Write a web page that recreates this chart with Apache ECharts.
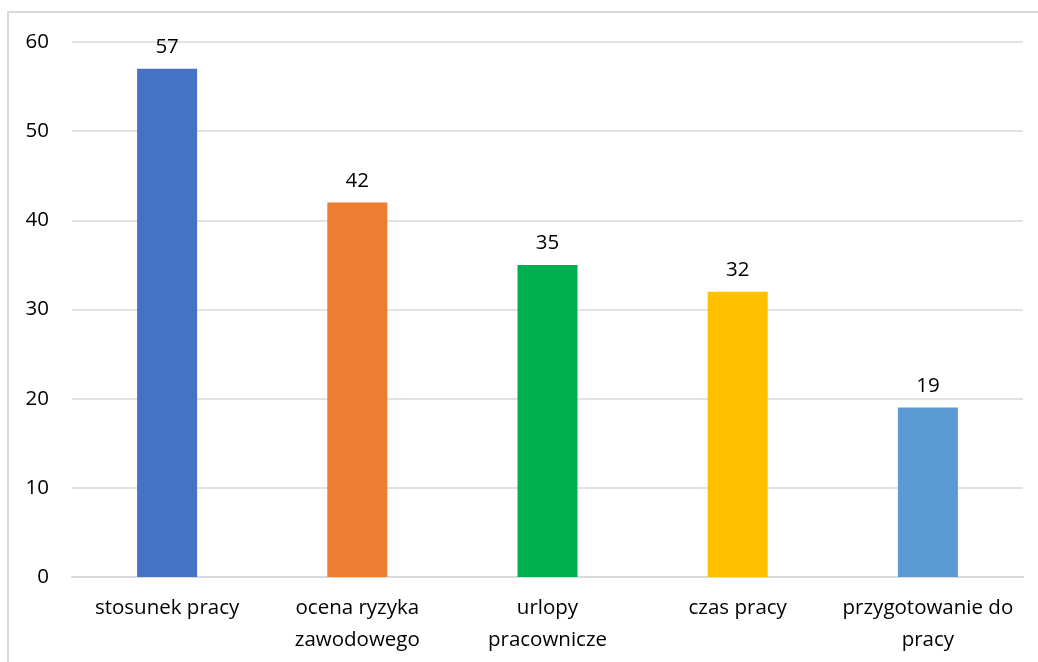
<!DOCTYPE html>
<html>
<head>
<meta charset="utf-8">
<script src="https://cdn.jsdelivr.net/npm/echarts@6/dist/echarts.min.js"></script>
<style>html,body{margin:0;padding:0;background:#fff}#c{width:1038px;height:662px}</style>
</head>
<body>
<div id="c"></div>
<script>
const categories = ['stosunek pracy', 'ocena ryzyka\nzawodowego', 'urlopy\npracownicze', 'czas pracy', 'przygotowanie do\npracy'];
const values = [57, 42, 35, 32, 19];
const colors = ['#4472C4', '#ED7D31', '#00B050', '#FFC000', '#5B9BD5'];
const yTicks = [0, 10, 20, 30, 40, 50, 60];

const chart = echarts.init(document.getElementById('c'));
const font = '"Open Sans", sans-serif';
chart.setOption({
  animation: false,
  graphic: [{
    type: 'rect', shape: { x: 8, y: 12, width: 1060, height: 700 },
    style: { fill: 'none', stroke: '#d9d9d9', lineWidth: 2 }, silent: true
  }],
  grid: { left: 72, right: 15, top: 42, bottom: 85, containLabel: false },
  xAxis: {
    type: 'category', data: categories,
    axisLine: { show: true, lineStyle: { color: '#d9d9d9', width: 2 } },
    axisTick: { show: false },
    axisLabel: { color: '#000', fontSize: 20.5, fontFamily: font, lineHeight: 32, margin: 15, interval: 0 }
  },
  yAxis: {
    type: 'value', min: yTicks[0], max: yTicks[yTicks.length - 1], interval: 10,
    axisLine: { show: false }, axisTick: { show: false },
    axisLabel: { color: '#000', fontSize: 20.5, fontFamily: font, margin: 23, align: 'right' },
    splitLine: { lineStyle: { color: '#d9d9d9', width: 1.5 } }
  },
  series: [{
    type: 'bar', barWidth: 60,
    data: values.map((v, i) => ({ value: v, itemStyle: { color: colors[i] } })),
    label: { show: true, position: 'top', distance: 11, color: '#000', fontSize: 20.5, fontFamily: font }
  }]
});
</script>
</body>
</html>
